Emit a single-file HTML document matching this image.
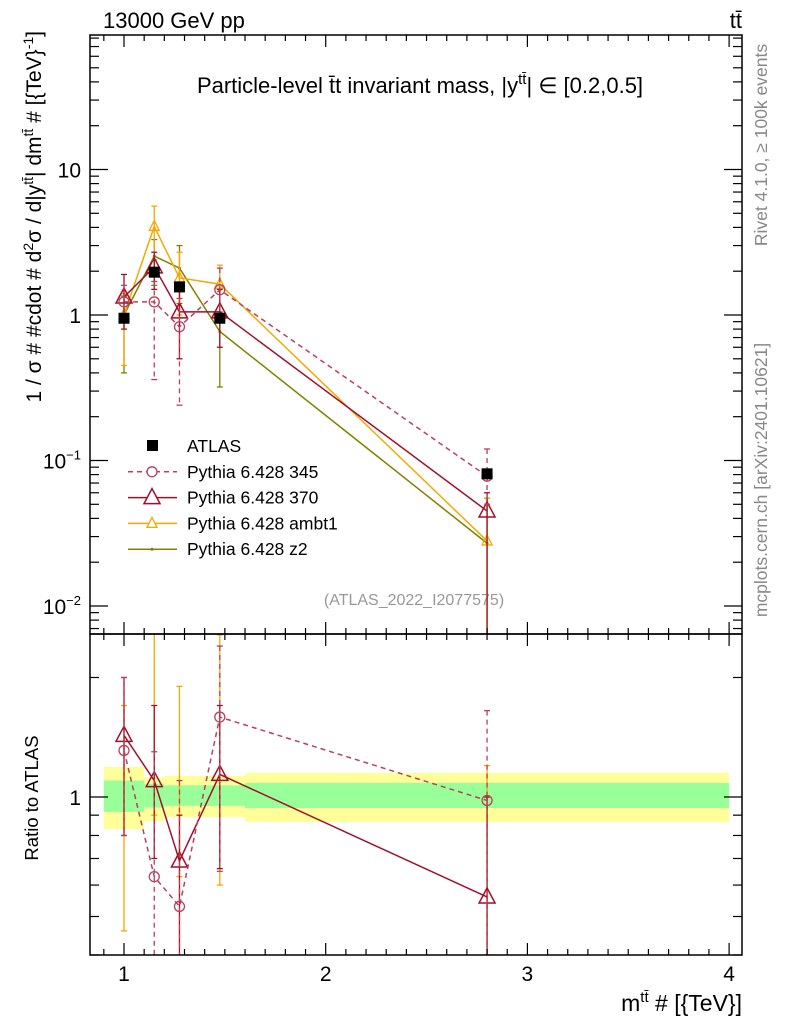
<!DOCTYPE html>
<html><head><meta charset="utf-8"><style>
body{margin:0;background:#fff}
svg{display:block;font-family:"Liberation Sans","DejaVu Sans",sans-serif}
</style></head><body>
<svg id="c" width="786" height="1024" viewBox="0 0 786 1024">
<text x="103" y="28" font-size="22">13000 GeV pp</text>
<text x="742" y="28" font-size="22" text-anchor="end">tt̄</text>
<text x="420" y="93" font-size="22" text-anchor="middle">Particle-level t̄t invariant mass, |y<tspan font-size="15" dy="-9">tt̄</tspan><tspan dy="9">| ∈ [0.2,0.5]</tspan></text>
<text x="414" y="605" font-size="16" fill="#999" text-anchor="middle">(ATLAS_2022_I2077575)</text>
<text transform="translate(767,145) rotate(-90)" font-size="17.5" fill="#888" text-anchor="middle">Rivet 4.1.0, ≥ 100k events</text>
<text transform="translate(767,480) rotate(-90)" font-size="17.5" fill="#888" text-anchor="middle">mcplots.cern.ch [arXiv:2401.10621]</text>
<text transform="translate(41,31) rotate(-90)" font-size="21" text-anchor="end">1 / σ # #cdot # d<tspan font-size="14" dy="-8">2</tspan><tspan dy="8">σ / d|y</tspan><tspan font-size="14" dy="-8">tt̄</tspan><tspan dy="8">| dm</tspan><tspan font-size="14" dy="-8">tt̄</tspan><tspan dy="8"> # [{TeV}</tspan><tspan font-size="14" dy="-8">-1</tspan><tspan dy="8">]</tspan></text>
<text transform="translate(38,798) rotate(-90)" font-size="18.5" text-anchor="middle">Ratio to ATLAS</text>
<text x="742" y="1011" font-size="23" text-anchor="end">m<tspan font-size="15" dy="-9">tt̄</tspan><tspan dy="9"> # [{TeV}]</tspan></text>
</svg>
<script>
const categories=[1.0,1.15,1.275,1.475,2.8];
const binEdges=[0.9,1.1,1.2,1.35,1.6,4.0];
const atlas=[0.95,1.97,1.56,0.95,0.081];
const atlasErr=[0.06,0.1,0.1,0.06,0.006];
const bandGreenHi=[1.10,1.08,1.07,1.07,1.085];
const bandGreenLo=[0.917,0.94,0.95,0.95,0.938];
const bandYellowHi=[1.19,1.12,1.13,1.13,1.15];
const bandYellowLo=[0.83,0.87,0.89,0.89,0.865];
const p345=[1.23,1.23,0.83,1.49,0.078];
const p345Hi=[1.6,1.7,1.3,2.1,0.12];
const p345Lo=[0.9,0.36,0.24,0.95,0.05];
const p370=[1.33,2.14,1.05,1.05,0.045];
const p370Hi=[1.9,2.7,1.6,1.5,0.06];
const p370Lo=[0.8,1.5,0.5,0.6,0.005];
const ambt1=[1.0,4.06,1.8,1.63,0.028];
const ambt1Hi=[1.4,5.6,2.7,2.2,0.055];
const ambt1Lo=[0.45,2.4,1.0,1.0,0.005];
const z2=[1.0,2.54,2.1,0.77,0.027];
const z2Hi=[1.35,3.3,3.0,1.05,0.055];
const z2Lo=[0.4,1.6,1.2,0.32,0.005];
const r345=[1.31,0.63,0.53,1.59,0.98];
const r345Hi=[2.0,1.3,1.1,2.4,1.65];
const r345Lo=[0.8,0.3,0.3,0.65,0.4];
const r370=[1.43,1.10,0.69,1.14,0.56];
const r370Hi=[2.0,1.7,0.9,1.7,1.0];
const r370Lo=[0.8,0.7,0.3,0.66,0.3];
const rAmbHi=[1.7,2.6,1.9,2.56,1.2];
const rAmbLo=[0.46,0.9,0.63,0.6,0.3];
const xTicks=[1,2,3,4];
const mainTicks=[10,1,0.1,0.01];
const mainTickExp=["","","−1","−2"];

const NS="http://www.w3.org/2000/svg",svg=document.getElementById('c');
const L=90,R=742,T1=35,B1=634,B2=955;
const X=v=>124+(v-1)*201.7;
const Y=v=>315-Math.log10(v)*145.5;
const YR=v=>797-Math.log10(v)*397;
function el(t,a,p){const e=document.createElementNS(NS,t);for(const k in a)e.setAttribute(k,a[k]);(p||svg).appendChild(e);return e;}
const clip1=el('clipPath',{id:'cl1'});el('rect',{x:L,y:T1,width:R-L,height:B1-T1},clip1);
const clip2=el('clipPath',{id:'cl2'});el('rect',{x:L,y:B1,width:R-L,height:B2-B1},clip2);
const g1=el('g',{'clip-path':'url(#cl1)'});
const g2=el('g',{'clip-path':'url(#cl2)'});
for(let i=0;i<5;i++){
 const x0=X(binEdges[i]),x1=X(binEdges[i+1]);
 const y=el('rect',{x:x0,y:YR(bandYellowHi[i]),width:x1-x0,height:YR(bandYellowLo[i])-YR(bandYellowHi[i]),fill:'#ffff99'},g2);
 
 const g=el('rect',{x:x0,y:YR(bandGreenHi[i]),width:x1-x0,height:YR(bandGreenLo[i])-YR(bandGreenHi[i]),fill:'#99ff99'},g2);
 
}
function series(g,Yf,vals,hi,lo,col,dash,marker,name,w){
 const pts=vals?vals.map((v,i)=>X(categories[i])+','+Yf(v)).join(' '):null;
 for(let i=0;i<5;i++){const x=X(categories[i]);
  const e=el('line',{x1:x,x2:x,y1:Yf(hi[i]),y2:Yf(lo[i]),stroke:col,'stroke-width':1.3,'stroke-dasharray':dash||''},g);
  
  [hi[i],lo[i]].forEach(v=>{const c=el('line',{x1:x-3,x2:x+3,y1:Yf(v),y2:Yf(v),stroke:col,'stroke-width':1.3},g);});
 }
 if(!vals)return;
 const pl=el('polyline',{points:pts,fill:'none',stroke:col,'stroke-width':w||1.5,'stroke-dasharray':dash||''},g);
 
 vals.forEach((v,i)=>{const x=X(categories[i]),y=Yf(v);let m;
  if(marker==='circle')m=el('circle',{cx:x,cy:y,r:5,fill:'none',stroke:col,'stroke-width':1.3},g);
  else if(marker==='tri')m=el('polygon',{points:`${x},${y-9} ${x-8},${y+6} ${x+8},${y+6}`,fill:'none',stroke:col,'stroke-width':1.5},g);
  else if(marker==='tris')m=el('polygon',{points:`${x},${y-6} ${x-5},${y+4} ${x+5},${y+4}`,fill:'none',stroke:col,'stroke-width':1.3},g);
  else m=el('circle',{cx:x,cy:y,r:1.5,fill:col},g);
  });
}
series(g1,Y,z2,z2Hi,z2Lo,'#808000','', 'dot','pythia-z2');
series(g1,Y,ambt1,ambt1Hi,ambt1Lo,'#f5a800','','tris','pythia-ambt1');
series(g1,Y,p370,p370Hi,p370Lo,'#a0102a','','tri','pythia-370');
series(g1,Y,p345,p345Hi,p345Lo,'#b8405e','5,4','circle','pythia-345');
atlas.forEach((v,i)=>{const x=X(categories[i]);
 const e=el('line',{x1:x,x2:x,y1:Y(v+atlasErr[i]),y2:Y(v-atlasErr[i]),stroke:'#000','stroke-width':1.3},g1);
 const r=el('rect',{x:x-5.5,y:Y(v)-5.5,width:11,height:11,fill:'#000'},g1);});
series(g2,YR,null,rAmbHi,rAmbLo,'#f5a800','','','ratio-ambt1');
series(g2,YR,r370,r370Hi,r370Lo,'#a0102a','','tri','ratio-370');
series(g2,YR,r345,r345Hi,r345Lo,'#b8405e','5,4','circle','ratio-345');
[[T1,B1,'main-frame'],[B1,B2,'ratio-frame']].forEach(([t,b,n])=>{const f=el('rect',{x:L,y:t,width:R-L,height:b-t,fill:'none',stroke:'#000','stroke-width':1.5});});
function tk(x1,y1,x2,y2){const e=el('line',{x1,y1,x2,y2,stroke:'#000','stroke-width':1.2});}
for(let v=0.9;v<=4.01;v+=0.1){const x=X(v),maj=Math.abs(v-Math.round(v))<0.01,len=maj?12:6;
 [T1,B1].forEach(t=>tk(x,t,x,t+len));[B1,B2].forEach(b=>tk(x,b,x,b-len));}
xTicks.forEach(v=>{const t=el('text',{x:X(v),y:981,'font-size':21,'text-anchor':'middle'});t.textContent=v;});
for(let d=-3;d<2;d++)for(let m=1;m<10;m++){const v=m*Math.pow(10,d),y=Y(v);if(y<T1||y>B1)continue;const len=m===1?18:9;tk(L,y,L+len,y);tk(R,y,R-len,y);}
mainTicks.forEach((v,i)=>{const exp=mainTickExp[i];const t=el('text',{x:81,y:Y(v)+8,'font-size':21,'text-anchor':'end'});t.textContent=exp?'10':String(v);
 if(exp){const s=el('tspan',{'font-size':13,dy:-9},t);s.textContent=exp;}
 });
[0.4,0.5,0.6,0.7,0.8,0.9,1,2].forEach(v=>{const y=YR(v),len=v===1?18:9;tk(L,y,L+len,y);tk(R,y,R-len,y);});
const t1=el('text',{x:81,y:YR(1)+8,'font-size':21,'text-anchor':'end'});t1.textContent='1';
const leg=[['ATLAS','#000','','sq'],['Pythia 6.428 345','#b8405e','5,4','circle'],['Pythia 6.428 370','#a0102a','','tri'],['Pythia 6.428 ambt1','#f5a800','','tris'],['Pythia 6.428 z2','#808000','','dot']];
leg.forEach((l,i)=>{const y=446+i*25.8;const g=el('g',{});
 if(l[3]==='sq')el('rect',{x:147,y:y-6,width:11,height:11,fill:'#000'},g);
 else{el('line',{x1:128,x2:177,y1:y,y2:y,stroke:l[1],'stroke-width':1.5,'stroke-dasharray':l[2]},g);
  if(l[3]==='circle')el('circle',{cx:152,cy:y,r:5,fill:'#fff',stroke:l[1],'stroke-width':1.3},g);
  else if(l[3]==='tri')el('polygon',{points:`152,${y-9} 144,${y+6} 160,${y+6}`,fill:'#fff',stroke:l[1],'stroke-width':1.5},g);
  else if(l[3]==='tris')el('polygon',{points:`152,${y-6} 147,${y+4} 157,${y+4}`,fill:'#fff',stroke:l[1],'stroke-width':1.3},g);
  else el('circle',{cx:152,cy:y,r:1.5,fill:l[1]},g);}
 const t=el('text',{x:187,y:y+6,'font-size':17.5},g);t.textContent=l[0];});
</script>
</body></html>
